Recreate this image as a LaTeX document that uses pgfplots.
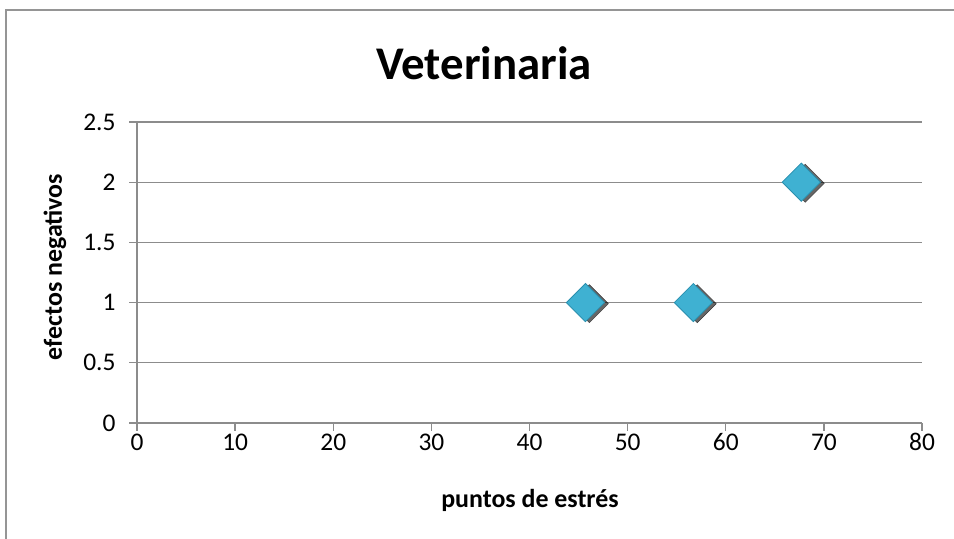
\documentclass[border=0pt]{standalone}
\usepackage{pgfplots}
\pgfplotsset{compat=1.18}
\usepackage{fontspec}
\setmainfont{Carlito}
\definecolor{gridc}{HTML}{8C8C8C}
\definecolor{framec}{HTML}{959595}
\definecolor{markc}{HTML}{3FB1D2}
\definecolor{markd}{HTML}{2A8FAE}
\begin{document}
\begin{tikzpicture}[x=1bp,y=1bp]
\useasboundingbox (0,0) rectangle (954,539);
\draw[line width=2bp, color=framec] (6,0) -- (6,529) -- (954,529);
\begin{axis}[
  at={(137bp,116bp)}, anchor=south west,
  width=785bp, height=301bp, scale only axis,
  xmin=0, xmax=80, ymin=0, ymax=2.5,
  xtick={0,10,20,30,40,50,60,70,80},
  ytick={0,0.5,1,1.5,2,2.5},
  yticklabels={0,0.5,1,1.5,2,2.5},
  axis x line*=bottom, axis y line*=left,
  axis line style={gridc, line width=1.3bp, -},
  ymajorgrids, grid style={gridc, line width=1.3bp},
  major tick style={gridc, line width=1.3bp},
  major tick length=8bp, tick align=outside,
  ticklabel style={font=\fontsize{25.5}{30}\selectfont},
  yticklabel style={xshift=-10bp},
  xticklabel style={yshift=1bp},
  /pgf/number format/assume math mode=true,
  clip=false,
]
\addplot[only marks, mark=square*, mark size=13.5bp,
  mark options={rotate=45, fill=black, draw=none, opacity=0.6, xshift=2bp, yshift=-3.5bp}]
  coordinates {(45.7,1) (56.7,1) (67.7,2)};
\addplot[only marks, mark=square*, mark size=13.5bp,
  mark options={rotate=45, fill=markc, draw=markd, line width=0.8bp}]
  coordinates {(45.7,1) (56.7,1) (67.7,2)};
\end{axis}
\node[font=\fontsize{47}{56}\selectfont\bfseries] at (484,476) {Veterinaria};
\node[font=\fontsize{26}{31}\selectfont\bfseries] at (530,39) {puntos de estrés};
\node[font=\fontsize{26}{31}\selectfont\bfseries, rotate=90] at (55,272) {efectos negativos};
\end{tikzpicture}
\end{document}
